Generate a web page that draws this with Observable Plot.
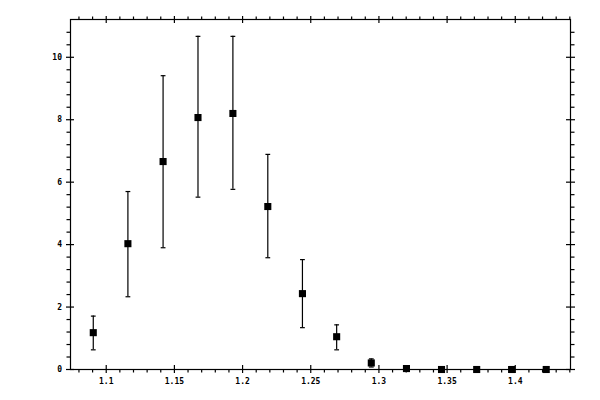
<!DOCTYPE html>
<html><head><meta charset="utf-8">
<script src="https://cdn.jsdelivr.net/npm/d3@7"></script>
<script src="https://cdn.jsdelivr.net/npm/@observablehq/plot@0.6"></script>
<style>body{margin:0;background:#fff}</style>
</head><body><div id="chart"></div>
<script>
// Data
const xs    = [1.0905, 1.1159, 1.1417, 1.1673, 1.1929, 1.2185, 1.2439, 1.2690, 1.2944, 1.3202, 1.3459, 1.3717, 1.3973, 1.4227];
const ys    = [1.18, 4.03, 6.66, 8.07, 8.20, 5.22, 2.43, 1.05, 0.21, 0.03, 0.0, 0.0, 0.0, 0.0];
const errLo = [0.63, 2.33, 3.90, 5.52, 5.77, 3.58, 1.34, 0.63, 0.08, null, null, null, null, null];
const errHi = [1.71, 5.70, 9.41, 10.67, 10.67, 6.89, 3.52, 1.43, 0.34, null, null, null, null, null];

// Axis ticks
const majorX = [1.1, 1.15, 1.2, 1.25, 1.3, 1.35, 1.4];
const xLabels = ["1.1", "1.15", "1.2", "1.25", "1.3", "1.35", "1.4"];
const minorX = [1.08, 1.09, 1.11, 1.12, 1.13, 1.14, 1.16, 1.17, 1.18, 1.19, 1.21, 1.22, 1.23, 1.24,
                1.26, 1.27, 1.28, 1.29, 1.31, 1.32, 1.33, 1.34, 1.36, 1.37, 1.38, 1.39, 1.41, 1.42, 1.43, 1.44];
const majorY = [0, 2, 4, 6, 8, 10];
const yLabels = ["0", "2", "4", "6", "8", "10"];
const minorY = [0.4, 0.8, 1.2, 1.6, 2.4, 2.8, 3.2, 3.6, 4.4, 4.8, 5.2, 5.6, 6.4, 6.8, 7.2, 7.6,
                8.4, 8.8, 9.2, 9.6, 10.4, 10.8];

const data = xs.map((x, i) => ({x, y: ys[i], lo: errLo[i], hi: errHi[i]}));
const withErr = data.filter(d => d.lo != null);

const W = 600, H = 400, mT = 19, mB = 31, mL = 70, mR = 30;
const plotH = H - mT - mB, plotW = W - mL - mR;
const tk = 4, minorTk = 3.5, sw = 1.2;
const xLab = new Map(majorX.map((v, i) => [v, xLabels[i]]));
const yLab = new Map(majorY.map((v, i) => [v, yLabels[i]]));

const cap = {draw(ctx, size) { const w = Math.sqrt(size) / 2; ctx.moveTo(-w, 0); ctx.lineTo(w, 0); }};

const chart = Plot.plot({
  width: W, height: H,
  marginTop: mT, marginBottom: mB, marginLeft: mL, marginRight: mR,
  x: {domain: [1.0738, 1.4405]},
  y: {domain: [0, 11.21]},
  style: {fontFamily: "'DejaVu Sans Mono', monospace", fontSize: "8px", fontWeight: "bold", background: "white", color: "black"},
  marks: [
    Plot.frame({stroke: "black", strokeWidth: sw}),
    // outward major ticks with labels
    Plot.axisX(majorX, {anchor: "bottom", tickSize: tk, tickPadding: 5, strokeWidth: sw, tickFormat: d => xLab.get(d), label: null}),
    Plot.axisX(majorX, {anchor: "top", tickSize: tk, strokeWidth: sw, text: null, label: null}),
    Plot.axisY(majorY, {anchor: "left", tickSize: tk, tickPadding: 4.5, strokeWidth: sw, tickFormat: d => yLab.get(d), label: null}),
    Plot.axisY(majorY, {anchor: "right", tickSize: tk, strokeWidth: sw, text: null, label: null}),
    // outward minor ticks
    Plot.axisX(minorX, {anchor: "bottom", tickSize: minorTk, strokeWidth: sw, text: null, label: null}),
    Plot.axisX(minorX, {anchor: "top", tickSize: minorTk, strokeWidth: sw, text: null, label: null}),
    Plot.axisY(minorY, {anchor: "left", tickSize: minorTk, strokeWidth: sw, text: null, label: null}),
    Plot.axisY(minorY, {anchor: "right", tickSize: minorTk, strokeWidth: sw, text: null, label: null}),
    // inward major ticks
    Plot.tickX(majorX, {x: d => d, insetTop: plotH - tk, strokeWidth: sw}),
    Plot.tickX(majorX, {x: d => d, insetBottom: plotH - tk, strokeWidth: sw}),
    Plot.tickY(majorY, {y: d => d, insetRight: plotW - tk, strokeWidth: sw}),
    Plot.tickY(majorY, {y: d => d, insetLeft: plotW - tk, strokeWidth: sw}),
    // error bars
    Plot.ruleX(withErr, {x: "x", y1: "lo", y2: "hi", stroke: "black", strokeWidth: sw}),
    Plot.dot(withErr, {x: "x", y: "hi", symbol: cap, r: 2.7, stroke: "black", fill: "none", strokeWidth: sw}),
    Plot.dot(withErr, {x: "x", y: "lo", symbol: cap, r: 2.7, stroke: "black", fill: "none", strokeWidth: sw}),
    // markers
    Plot.dot(data, {x: "x", y: "y", symbol: "square", r: 4, fill: "black", stroke: "none"})
  ]
});
document.getElementById("chart").append(chart);
</script>
</body></html>
